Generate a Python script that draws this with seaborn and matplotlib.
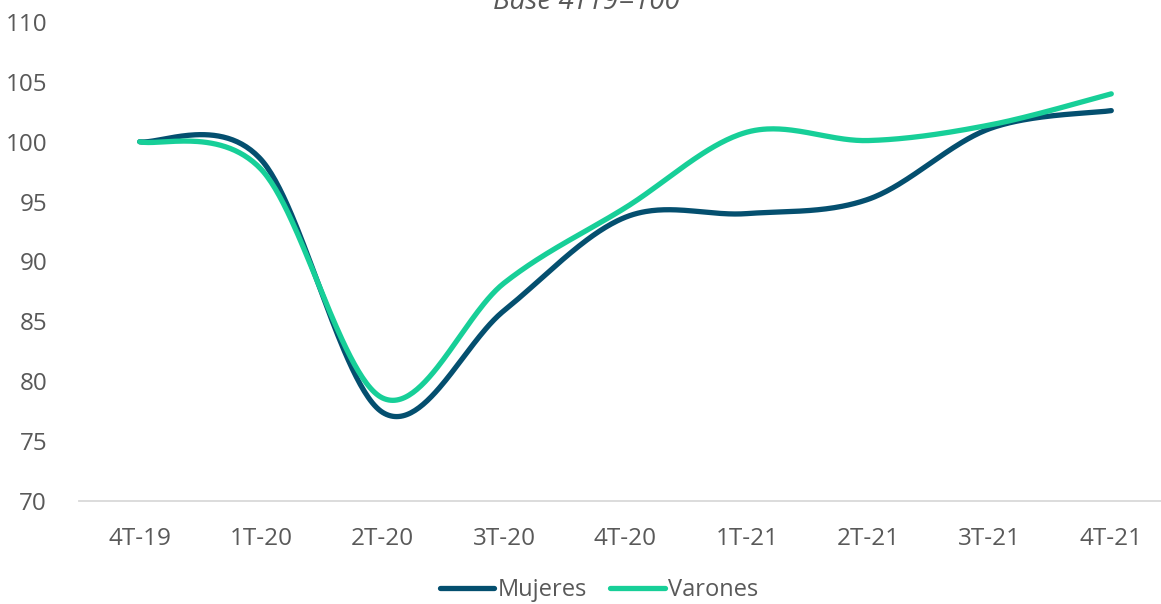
import numpy as np
import pandas as pd
import matplotlib
matplotlib.use("Agg")
import matplotlib.pyplot as plt
from matplotlib.lines import Line2D
import seaborn as sns

# Quarterly employment index, base 4T19 = 100
quarters = ["4T-19", "1T-20", "2T-20", "3T-20", "4T-20", "1T-21", "2T-21", "3T-21", "4T-21"]
mujeres = [100.0, 98.5, 77.4, 85.9, 93.7, 94.0, 95.2, 101.1, 102.6]
varones = [100.0, 97.7, 78.6, 88.2, 94.5, 100.8, 100.1, 101.4, 104.0]
series_names = ["Mujeres", "Varones"]
colors = ["#044F6F", "#17CF98"]
title = "Base 4T19=100"
yticks = [70, 75, 80, 85, 90, 95, 100, 105, 110]


def smooth(values, n=60):
    """Cubic Bezier smoothing through every point (spreadsheet-style smoothed line)."""
    p = np.asarray(values, dtype=float)
    x = np.arange(len(p), dtype=float)
    pp = np.concatenate([[p[0]], p, [p[-1]]])
    xx = np.concatenate([[x[0]], x, [x[-1]]])
    xs, ys = [], []
    t = np.linspace(0, 1, n, endpoint=False)
    for i in range(len(p) - 1):
        j = i + 1
        y0, y3 = pp[j], pp[j + 1]
        y1 = y0 + (pp[j + 1] - pp[j - 1]) / 6
        y2 = y3 - (pp[j + 2] - pp[j]) / 6
        x0, x3 = xx[j], xx[j + 1]
        x1 = x0 + (xx[j + 1] - xx[j - 1]) / 6
        x2 = x3 - (xx[j + 2] - xx[j]) / 6
        b0, b1, b2, b3 = (1 - t) ** 3, 3 * (1 - t) ** 2 * t, 3 * (1 - t) * t ** 2, t ** 3
        xs.append(b0 * x0 + b1 * x1 + b2 * x2 + b3 * x3)
        ys.append(b0 * y0 + b1 * y1 + b2 * y2 + b3 * y3)
    xs.append([x[-1]])
    ys.append([p[-1]])
    return np.concatenate(xs), np.concatenate(ys)


frames = []
for name, vals in zip(series_names, [mujeres, varones]):
    sx, sy = smooth(vals)
    frames.append(pd.DataFrame({"pos": sx, "valor": sy, "serie": name}))
df = pd.concat(frames, ignore_index=True)

sns.set_theme(style="white")
plt.rcParams["font.family"] = ["Open Sans", "DejaVu Sans"]
text_color = "#595959"
fs = 17.5

fig = plt.figure(figsize=(11.61, 6.04), dpi=100)
ax = fig.add_axes([79 / 1161, 1 - 501 / 604, (1172 - 79) / 1161, (501 - 22) / 604])

sns.lineplot(data=df, x="pos", y="valor", hue="serie", hue_order=series_names,
             palette=colors, sort=False, estimator=None, units="serie",
             linewidth=3.8, ax=ax, legend=False)
for line in ax.lines:
    line.set_solid_capstyle("round")
    line.set_clip_on(False)

ax.set_xlim(-0.5, len(quarters) - 0.5)
ax.set_ylim(70, 110)
ax.set_xticks(range(len(quarters)))
ax.set_xticklabels(quarters)
ax.set_yticks(yticks)
ax.set_xlabel("")
ax.set_ylabel("")
for s in ["top", "right", "left"]:
    ax.spines[s].set_visible(False)
ax.spines["bottom"].set_color("#D9D9D9")
ax.spines["bottom"].set_linewidth(1.3)
ax.tick_params(axis="both", length=0, labelsize=fs, labelcolor=text_color)
ax.tick_params(axis="x", pad=19)
ax.tick_params(axis="y", pad=23)

handles = [Line2D([0], [0], color=c, linewidth=3.8, solid_capstyle="round") for c in colors]
fig.legend(handles, series_names, loc="center", bbox_to_anchor=(599 / 1161, 1 - 590 / 604),
           ncol=2, frameon=False, fontsize=17, handlelength=2.3, handletextpad=0.15,
           columnspacing=1.0, labelcolor=text_color, borderpad=0.1)

fig.text(586 / 1161, 1 - 9 / 604, title, ha="center", va="baseline",
         fontsize=20, style="italic", color=text_color)

fig.savefig("out.png", dpi=100)
